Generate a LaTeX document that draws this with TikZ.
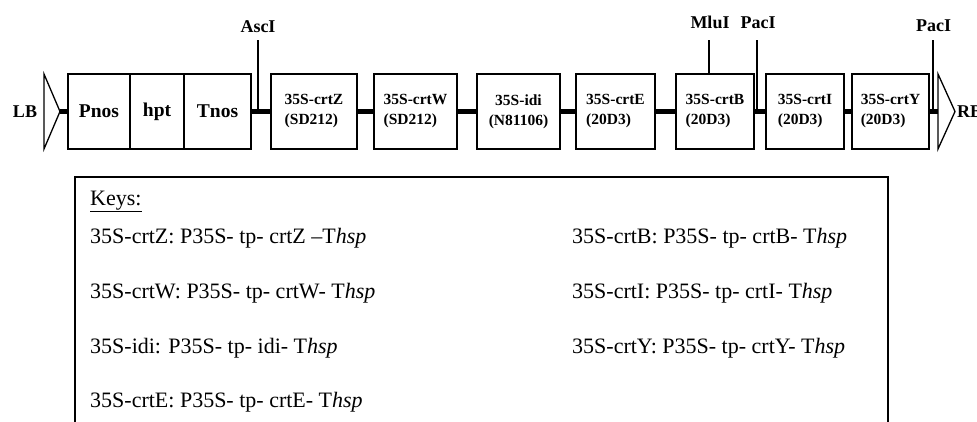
\documentclass[tikz,border=0pt]{standalone}
\usepackage{fontspec}
\setmainfont{Liberation Serif}
\begin{document}
\begin{tikzpicture}[x=1pt,y=-1pt]
% Styles
\tikzstyle{boite}=[draw,line width=1.3pt,minimum height=75pt,inner sep=0pt,align=left,font=\bfseries\fontsize{15.5}{20}\selectfont]
\tikzstyle{grande}=[font=\bfseries\fontsize{19.5}{22}\selectfont]
\tikzstyle{liaison}=[line width=5pt]
\tikzstyle{frontiere}=[line width=1.3pt,line join=miter]
\tikzstyle{site}=[anchor=base,inner sep=0pt,font=\bfseries\fontsize{18}{20}\selectfont]
\tikzstyle{trait}=[line width=1.2pt]
\tikzstyle{cle}=[anchor=base west,inner sep=0pt,font=\fontsize{22}{26}\selectfont]
% Dimensions
\def\Axe{111.5}
\def\HautTraits{40}
\def\ColA{90}
\def\ColB{572}
\useasboundingbox (0,0) rectangle (977,421);
% Bordures LB et RB
\coordinate (LBpointe) at (60,\Axe);
\coordinate (RBbase) at (938,\Axe);
\coordinate (RBpointe) at (955,\Axe);
\draw[frontiere] (44,74) -- (LBpointe) -- (44,149) -- cycle;
\draw[frontiere] (938,74) -- (RBpointe) -- (938,149) -- cycle;
\node[site,anchor=center] (LB) at (25,\Axe) {LB};
\node[site,anchor=west] (RB) at (957,\Axe) {RB};
% Noeuds
\node[boite,grande,minimum width=62pt] (Pnos) at ({99},{\Axe}) {Pnos};
\node[boite,grande,minimum width=54pt] (hpt) at ({157},{\Axe}) {hpt};
\node[boite,grande,minimum width=67pt] (Tnos) at ({217.5},{\Axe}) {Tnos};
\node[boite,minimum width=86pt] (crtZ) at ({314},{\Axe}) {35S-crtZ\\(SD212)};
\node[boite,minimum width=83pt] (crtW) at ({415.5},{\Axe}) {35S-crtW\\(SD212)};
\node[boite,minimum width=83pt,align=center] (idi) at ({518.5},{\Axe}) {35S-idi\\(N81106)};
\node[boite,minimum width=79pt] (crtE) at ({615.5},{\Axe}) {35S-crtE\\(20D3)};
\node[boite,minimum width=78pt] (crtB) at ({715},{\Axe}) {35S-crtB\\(20D3)};
\node[boite,minimum width=78pt] (crtI) at ({805},{\Axe}) {35S-crtI\\(20D3)};
\node[boite,minimum width=77pt] (crtY) at ({890.5},{\Axe}) {35S-crtY\\(20D3)};
% Liaisons
\draw[liaison] (LBpointe)--(Pnos.west);
\draw[liaison] (Tnos.east)--(crtZ.west);
\draw[liaison] (crtZ.east)--(crtW.west);
\draw[liaison] (crtW.east)--(idi.west);
\draw[liaison] (idi.east)--(crtE.west);
\draw[liaison] (crtE.east)--(crtB.west);
\draw[liaison] (crtB.east)--(crtI.west);
\draw[liaison] (crtI.east)--(crtY.west);
\draw[liaison] (crtY.east)--(RBbase);
% Sites de restriction
\node[site] (AscI) at (258,32) {AscI};
\node[site] (MluI) at (710,28) {MluI};
\node[site] (PacIa) at (758,28) {PacI};
\node[site] (PacIb) at (933.5,31) {PacI};
\coordinate (AscIhaut) at (258,\HautTraits);
\coordinate (MluIhaut) at (709,\HautTraits);
\coordinate (PacIahaut) at (757,\HautTraits);
\coordinate (PacIbhaut) at (933,\HautTraits);
\draw[trait] (AscIhaut)--(AscIhaut |- LBpointe);
\draw[trait] (MluIhaut)--(MluIhaut |- crtB.north);
\draw[trait] (PacIahaut)--(PacIahaut |- LBpointe);
\draw[trait] (PacIbhaut)--(PacIbhaut |- LBpointe);
% Legende
\draw[line width=1.3pt] (75,177) rectangle (888,440);
\node[cle] (Titre) at (\ColA,205) {\underline{Keys:}};
\node[cle] (CleZ) at (\ColA,243) {35S-crtZ: P35S- tp- crtZ –T\textit{hsp}};
\node[cle] (CleW) at (\ColA,298) {35S-crtW: P35S- tp- crtW- T\textit{hsp}};
\node[cle] (CleIdi) at (\ColA,353) {35S-idi: P35S- tp- idi- T\textit{hsp}};
\node[cle] (CleE) at (\ColA,407) {35S-crtE: P35S- tp- crtE- T\textit{hsp}};
\node[cle] (CleB) at (\ColB,243) {35S-crtB: P35S- tp- crtB- T\textit{hsp}};
\node[cle] (CleI) at (\ColB,298) {35S-crtI: P35S- tp- crtI- T\textit{hsp}};
\node[cle] (CleY) at (\ColB,353) {35S-crtY: P35S- tp- crtY- T\textit{hsp}};
\end{tikzpicture}
\end{document}
